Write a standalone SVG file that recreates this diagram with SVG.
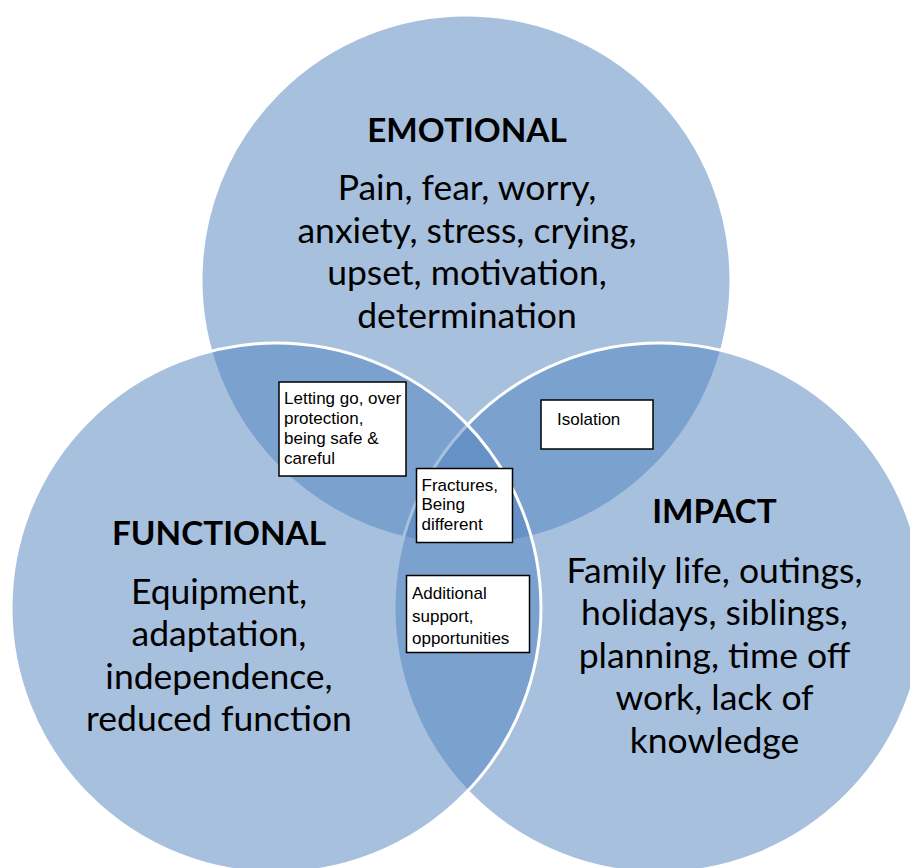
<svg xmlns="http://www.w3.org/2000/svg" width="910" height="868" viewBox="0 0 910 868">
  <style>
    .circle { fill: #4F81BD; fill-opacity: 0.5; stroke: #FFFFFF; stroke-width: 3; }
    .title { font-family: Lato, "Open Sans", sans-serif; font-weight: bold; font-size: 33.3px; fill: #000; text-anchor: middle; }
    .body { font-family: Lato, "Open Sans", sans-serif; font-size: 35.5px; fill: #000; text-anchor: middle; }
    .box { fill: #FFFFFF; stroke: #000000; stroke-width: 1.5; }
    .small { font-family: "Liberation Sans", Arial, sans-serif; font-size: 17px; fill: #000; }
  </style>
  <rect x="0" y="0" width="910" height="868" fill="#FFFFFF"/>

  <g id="emotional">
    <circle class="circle" cx="466" cy="280" r="265"/>
    <text class="title" x="467" y="142">EMOTIONAL</text>
    <text class="body" x="467" y="200">Pain, fear, worry,</text>
    <text class="body" x="467" y="242.5">anxiety, stress, crying,</text>
    <text class="body" x="467" y="285">upset, motivation,</text>
    <text class="body" x="467" y="327.5">determination</text>
  </g>

  <g id="impact">
    <circle class="circle" cx="659" cy="608" r="265"/>
    <text class="title" x="714.5" y="523">IMPACT</text>
    <text class="body" x="714.5" y="582.5">Family life, outings,</text>
    <text class="body" x="714.5" y="625">holidays, siblings,</text>
    <text class="body" x="714.5" y="667.5">planning, time off</text>
    <text class="body" x="714.5" y="710">work, lack of</text>
    <text class="body" x="714.5" y="752.5">knowledge</text>
  </g>

  <g id="functional">
    <circle class="circle" cx="276" cy="608" r="265"/>
    <text class="title" x="219" y="545">FUNCTIONAL</text>
    <text class="body" x="219" y="603.5">Equipment,</text>
    <text class="body" x="219" y="646">adaptation,</text>
    <text class="body" x="219" y="688.5">independence,</text>
    <text class="body" x="219" y="731">reduced function</text>
  </g>

  <g id="box-letting-go">
    <rect class="box" x="279" y="382" width="127" height="94"/>
    <text class="small" x="284" y="404">Letting go, over</text>
    <text class="small" x="284" y="424">protection,</text>
    <text class="small" x="284" y="444">being safe &amp;</text>
    <text class="small" x="284" y="463.5">careful</text>
  </g>

  <g id="box-isolation">
    <rect class="box" x="541" y="400" width="112" height="49"/>
    <text class="small" x="557" y="425">Isolation</text>
  </g>

  <g id="box-fractures">
    <rect class="box" x="416.5" y="468.5" width="96" height="74"/>
    <text class="small" x="421.5" y="490.5">Fractures,</text>
    <text class="small" x="421.5" y="510">Being</text>
    <text class="small" x="421.5" y="529.5">different</text>
  </g>

  <g id="box-additional">
    <rect class="box" x="406.5" y="575.5" width="123" height="77"/>
    <text class="small" x="412" y="599">Additional</text>
    <text class="small" x="412" y="621.5">support,</text>
    <text class="small" x="412" y="644">opportunities</text>
  </g>
</svg>
